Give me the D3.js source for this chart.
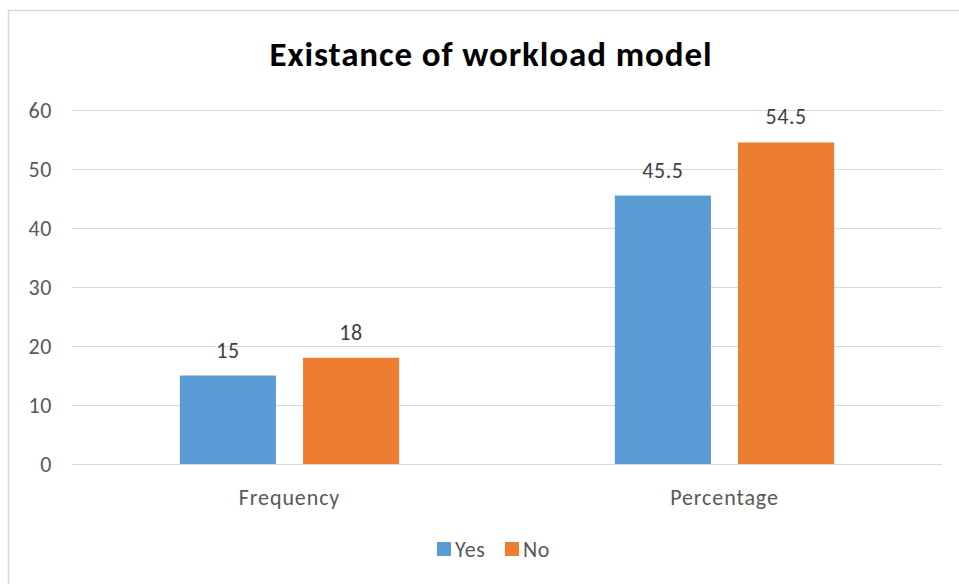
<!DOCTYPE html>
<html>
<head>
<meta charset="utf-8">
<script src="https://cdn.jsdelivr.net/npm/d3@7"></script>
<style>
  html, body { margin: 0; padding: 0; background: #fff; }
  svg { display: block; }
  text { font-family: Carlito, Calibri, Lato, "Open Sans", sans-serif; }
</style>
</head>
<body>
<svg id="chart" width="959" height="584"></svg>
<script>
const title = "Existance of workload model";
const categories = ["Frequency", "Percentage"];
const seriesNames = ["Yes", "No"];
const yesValues = [15, 45.5];
const noValues = [18, 54.5];
const yTicks = [0, 10, 20, 30, 40, 50, 60];
const colors = ["#5b9bd5", "#ed7d31"];

const FONT = 'Carlito, Calibri, Lato, "Open Sans", sans-serif';
const svg = d3.select("#chart");
const W = 959, H = 584;
const plot = { left: 72, right: 942, top: 110, bottom: 464 };

// chart frame
svg.append("rect").attr("x", 8.5).attr("y", 10.5).attr("width", W + 10).attr("height", H + 10)
  .attr("fill", "#fff").attr("stroke", "#d9d9d9").attr("stroke-width", 1.5);

const x0 = d3.scaleBand().domain(categories).range([plot.left, plot.right]).padding(0);
const bw = x0.bandwidth();
const x1 = d3.scaleBand().domain(seriesNames)
  .range([bw * 0.248, bw * (1 - 0.248)]).paddingInner(0.22).paddingOuter(0);
const y = d3.scaleLinear().domain([0, 60]).range([plot.bottom, plot.top]);

// gridlines
svg.append("g").selectAll("line").data(yTicks).join("line")
  .attr("x1", plot.left).attr("x2", plot.right)
  .attr("y1", d => Math.round(y(d)) + 0.5).attr("y2", d => Math.round(y(d)) + 0.5)
  .attr("stroke", "#d9d9d9").attr("stroke-width", 1.2);

// y axis labels
const yAxis = d3.axisLeft(y).tickValues(yTicks).tickSize(0).tickPadding(0);
const gy = svg.append("g").attr("transform", `translate(${plot.left - 20},0)`).call(yAxis);
gy.select(".domain").remove();
gy.selectAll("text").attr("fill", "#595959").attr("font-size", 22)
  .style("letter-spacing", "0.6px").style("font-family", FONT);

// x axis labels
const xAxis = d3.axisBottom(x0).tickSize(0).tickPadding(0);
const gx = svg.append("g").attr("transform", `translate(0,${plot.bottom + 41})`).call(xAxis);
gx.select(".domain").remove();
gx.selectAll("text").attr("fill", "#595959").attr("font-size", 22).attr("dy", 0)
  .style("letter-spacing", "0.9px").style("font-family", FONT);

// data
const rows = categories.map((c, i) => ({ cat: c, vals: [
  { s: "Yes", v: yesValues[i] }, { s: "No", v: noValues[i] } ] }));
const color = d3.scaleOrdinal().domain(seriesNames).range(colors);

const groups = svg.append("g").selectAll("g").data(rows).join("g")
  .attr("transform", d => `translate(${x0(d.cat)},0)`);

groups.selectAll("rect").data(d => d.vals).join("rect")
  .attr("x", d => x1(d.s)).attr("width", x1.bandwidth())
  .attr("y", d => y(d.v)).attr("height", d => y(0) - y(d.v))
  .attr("fill", d => color(d.s));

groups.selectAll("text.lbl").data(d => d.vals).join("text").attr("class", "lbl")
  .attr("x", d => x1(d.s) + x1.bandwidth() / 2).attr("y", d => y(d.v) - 18)
  .attr("text-anchor", "middle").attr("fill", "#404040").attr("font-size", 22)
  .style("letter-spacing", "0.6px").text(d => d.v);

// title
svg.append("text").attr("x", 491).attr("y", 66).attr("text-anchor", "middle")
  .attr("font-size", 35).attr("font-weight", "bold").attr("fill", "#000")
  .style("letter-spacing", "0.9px").text(title);

// legend
const legend = svg.append("g").attr("transform", "translate(437,549)");
const items = legend.selectAll("g").data(seriesNames).join("g")
  .attr("transform", (d, i) => `translate(${i * 68},0)`);
items.append("rect").attr("x", 0).attr("y", -7).attr("width", 14).attr("height", 14)
  .attr("fill", d => color(d));
items.append("text").attr("x", 18).attr("y", 0).attr("dy", "0.36em")
  .attr("fill", "#595959").attr("font-size", 22).style("letter-spacing", "0.6px").text(d => d);
</script>
</body>
</html>
